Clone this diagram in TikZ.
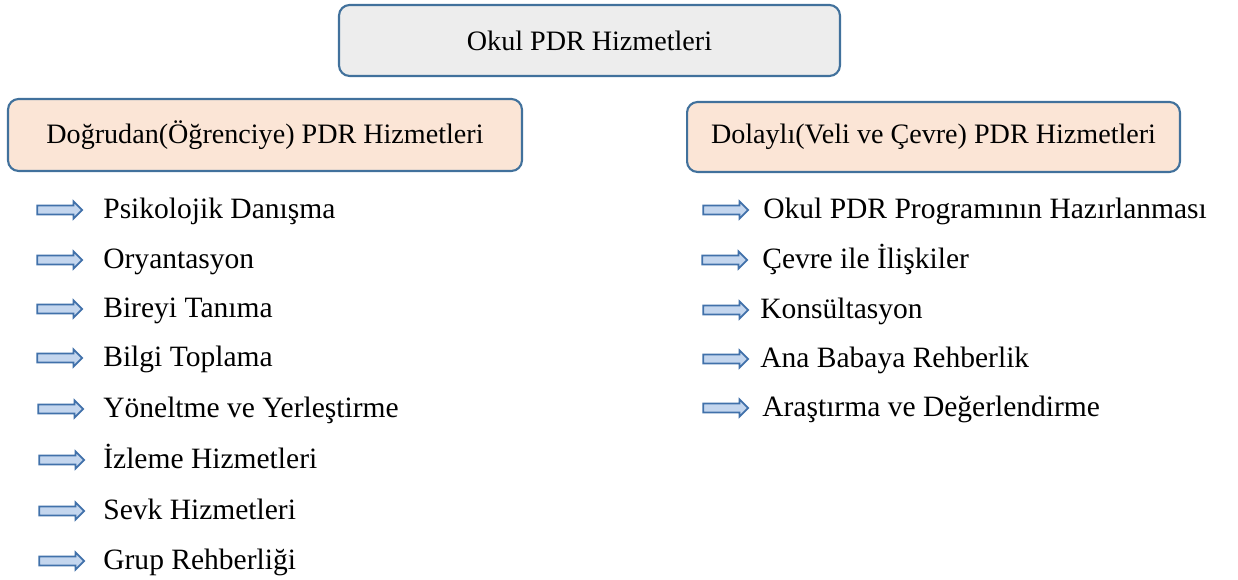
\documentclass[tikz,border=0pt]{standalone}
\usepackage{fontspec}
\setmainfont{Liberation Serif}
\usetikzlibrary{positioning,shapes.arrows}
\definecolor{boxline}{RGB}{65,113,156}
\definecolor{topfill}{RGB}{237,237,237}
\definecolor{headfill}{RGB}{251,229,214}
\definecolor{arrowline}{RGB}{65,113,170}
\definecolor{arrowfill}{RGB}{196,214,238}
\tikzset{
  titlebox/.style={draw=boxline, line width=1.2pt, rounded corners=6pt,
    font=\fontsize{16}{19}\selectfont, inner sep=0pt},
  listarrow/.style={single arrow, draw=arrowline, fill=arrowfill, line width=1pt,
    inner sep=2pt, minimum height=25.5pt, single arrow head extend=2.4pt},
  itemtext/.style={anchor=west, font=\fontsize{16.8}{20}\selectfont,
    inner sep=0pt, text height=11pt, text depth=3pt}
}

\begin{document}
\begin{tikzpicture}[x=0.02cm, y=-0.02cm]
                \useasboundingbox (0,0) rectangle (1238,580);

                % Top box
                \node[titlebox, fill=topfill, minimum width=10.02cm, minimum height=1.42cm]
                  (okul) at (589.5,40.5) {Okul PDR Hizmetleri};

                % Two branch boxes
                \node[titlebox, fill=headfill, minimum width=10.28cm, minimum height=1.44cm]
                  (dogrudan) at (265,135) {Doğrudan(Öğrenciye) PDR Hizmetleri};
                \node[titlebox, fill=headfill, minimum width=9.86cm, minimum height=1.40cm]
                  (dolayli) at (933.5,137) {Dolaylı(Veli ve Çevre) PDR Hizmetleri};

                % Left list
                \node[listarrow] (la1) at (57.5,210) {};
                \node[itemtext] (lt1) at (103,211) {Psikolojik Danışma};
                \node[listarrow] (la2) at (57.5,260) {};
                \node[itemtext] (lt2) at (103,261) {Oryantasyon};
                \node[listarrow] (la3) at (57.5,309) {};
                \node[itemtext] (lt3) at (103,310) {Bireyi Tanıma};
                \node[listarrow] (la4) at (57.5,358) {};
                \node[itemtext] (lt4) at (103,359) {Bilgi Toplama};
                \node[listarrow] (la5) at (58.5,409) {};
                \node[itemtext] (lt5) at (103,410) {Yöneltme ve Yerleştirme};
                \node[listarrow] (la6) at (59.5,460) {};
                \node[itemtext] (lt6) at (103,461) {İzleme Hizmetleri};
                \node[listarrow] (la7) at (59.5,511) {};
                \node[itemtext] (lt7) at (103,512) {Sevk Hizmetleri};
                \node[listarrow] (la8) at (59.5,561) {};
                \node[itemtext] (lt8) at (103,562) {Grup Rehberliği};

                % Right list
                \node[listarrow] (ra1) at (723.5,210) {};
                \node[itemtext] (rt1) at (763,211) {Okul PDR Programının Hazırlanması};
                \node[listarrow] (ra2) at (722.5,260) {};
                \node[itemtext] (rt2) at (762,261) {Çevre ile İlişkiler};
                \node[listarrow] (ra3) at (723.5,310) {};
                \node[itemtext] (rt3) at (760,311) {Konsültasyon};
                \node[listarrow] (ra4) at (723.5,359) {};
                \node[itemtext] (rt4) at (760,360) {Ana Babaya Rehberlik};
                \node[listarrow] (ra5) at (723.5,408) {};
                \node[itemtext] (rt5) at (762,409) {Araştırma ve Değerlendirme};
            \end{tikzpicture}
\end{document}
